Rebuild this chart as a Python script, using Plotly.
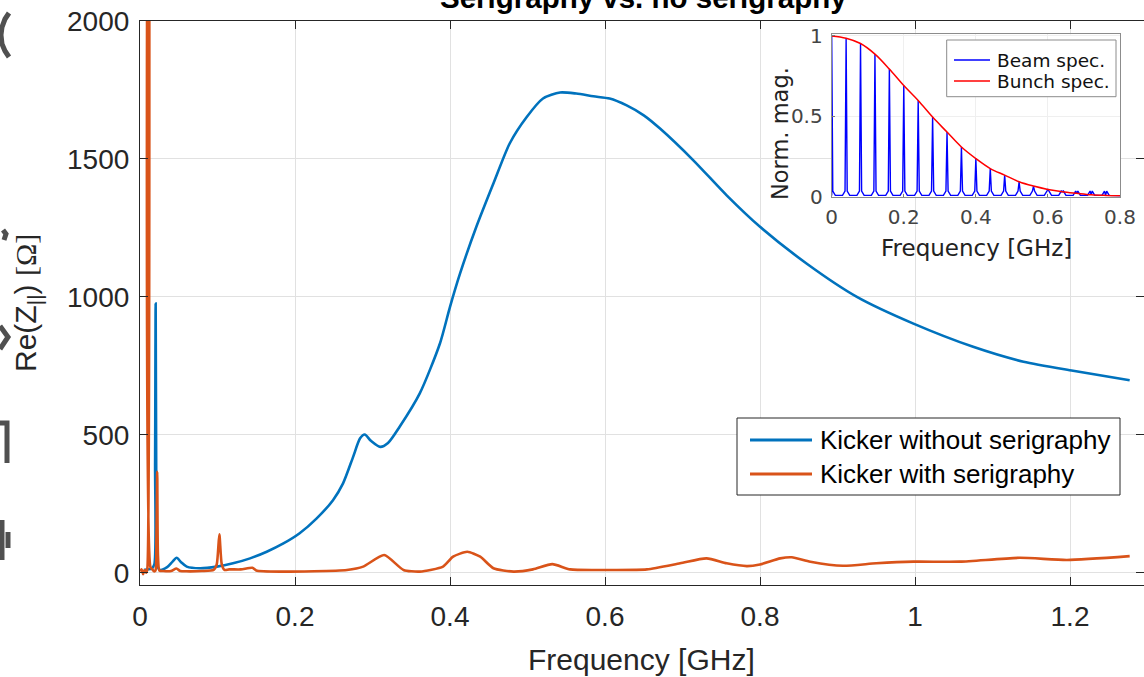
import plotly.graph_objects as go

# ---------------- data ----------------
blue_f = [0.005, 0.010, 0.015, 0.0185, 0.0195, 0.0202, 0.0210, 0.0220, 0.0258, 0.035, 0.042,
          0.0473, 0.0530, 0.0603, 0.0774, 0.099, 0.120, 0.142, 0.1635, 0.185, 0.206, 0.228,
          0.249, 0.262, 0.275, 0.284, 0.290, 0.298, 0.310, 0.320, 0.335, 0.361, 0.387, 0.400,
          0.413, 0.434, 0.456, 0.477, 0.499, 0.520, 0.542, 0.563, 0.585, 0.606, 0.628, 0.650,
          0.671, 0.714, 0.757, 0.800, 0.860, 0.925, 0.998, 1.075, 1.140, 1.204, 1.277]
blue_v = [10, 12, 15, 30, 400, 976, 300, 30, 10, 20, 40,
          54, 38, 22, 16, 22, 34, 52, 76, 106, 143, 197,
          263, 324, 420, 487, 501, 478, 456, 470, 529, 650, 831, 964,
          1085, 1254, 1411, 1556, 1652, 1719, 1741, 1737, 1727, 1719, 1694, 1658,
          1610, 1495, 1368, 1254, 1121, 1000, 903, 819, 765, 732, 698]

orange_f = [0.000, 0.002, 0.004, 0.006, 0.008, 0.0095, 0.0115, 0.0135, 0.016, 0.018,
            0.020, 0.0212, 0.0222, 0.0232, 0.025, 0.030, 0.040, 0.047, 0.052, 0.060, 0.080,
            0.095, 0.099, 0.1024, 0.1055, 0.109, 0.115, 0.130, 0.145, 0.150, 0.181, 0.267,
            0.288, 0.315, 0.340, 0.361, 0.391, 0.404, 0.4223, 0.439, 0.456, 0.482, 0.507,
            0.532, 0.555, 0.600, 0.654, 0.697, 0.731, 0.757, 0.783, 0.800, 0.826, 0.841,
            0.865, 0.907, 0.950, 0.998, 1.058, 1.135, 1.196, 1.277]
orange_v = [5, 12, -5, 10, 0, 15, 4200, 20, 12, 5,
            8, 120, 366, 60, 8, 6, 6, 15, 6, 5, 6,
            10, 30, 139, 30, 10, 12, 12, 18, 8, 4, 10,
            22, 64, 10, 4, 22, 58, 76, 58, 16, 4, 12,
            31, 12, 10, 12, 34, 52, 34, 24, 30, 52, 56,
            40, 25, 34, 40, 40, 54, 46, 60]

bunch_f = [0.00, 0.04, 0.08, 0.12, 0.16, 0.20, 0.24, 0.28, 0.32, 0.36, 0.40,
           0.44, 0.48, 0.52, 0.56, 0.60, 0.64, 0.68, 0.72, 0.76, 0.80]
bunch_v = [1.000, 0.986, 0.953, 0.887, 0.794, 0.691, 0.598, 0.495, 0.402, 0.309, 0.237,
           0.175, 0.134, 0.093, 0.066, 0.045, 0.031, 0.021, 0.012, 0.008, 0.006]

beam_f = bunch_f[:-1]
beam_v = bunch_v[:-1]

main_xticks = [0, 0.2, 0.4, 0.6, 0.8, 1.0, 1.2]
main_xtext = ["0", "0.2", "0.4", "0.6", "0.8", "1", "1.2"]
main_yticks = [0, 500, 1000, 1500, 2000]
inset_xticks = [0, 0.2, 0.4, 0.6, 0.8]
inset_xtext = ["0", "0.2", "0.4", "0.6", "0.8"]
inset_yticks = [0, 0.5, 1]
inset_ytext = ["0", "0.5", "1"]

# ---------------- geometry (page pixels) ----------------
W, H = 1144, 677
AX_L, AX_T, AX_B, AX_R = 140, 21, 585, 1144          # plot area in page pixels
ML, MT, MR, MB = AX_L, AX_T, W - AX_R, H - AX_B
PW, PH = W - ML - MR, H - MT - MB
PX_PER_GHZ = 775.0
Y0_PX = 572.7                                        # page pixel of Re(Z)=0
PX_PER_OHM = (Y0_PX - AX_T) / 2000.0


def px(x, y):
    """page pixel -> paper coordinates"""
    return (x - AX_L) / PW, (AX_B - y) / PH


BLUE = "#0072BD"
ORANGE = "#D95319"
AXC = "#262626"
GRID = "#e1e1e1"
MAINFONT = "Liberation Sans, Arial, sans-serif"
INSETFONT = "DejaVu Sans, Verdana, sans-serif"

# beam spectrum as stems with small humps at their feet
bx, by = [], []
for f, a in zip(beam_f, beam_v):
    bx += [max(f - 0.010, 0), max(f - 0.003, 0), f, f + 0.003, f + 0.010]
    by += [0.008, 0.035, a, 0.035, 0.008]
bx += [0.8]
by += [0.006]

fig = go.Figure()
fig.add_trace(go.Scatter(x=blue_f, y=blue_v, mode="lines", name="Kicker without serigraphy",
                         line=dict(color=BLUE, width=2.6, shape="spline", smoothing=0.7),
                         showlegend=False))
fig.add_trace(go.Scatter(x=orange_f, y=orange_v, mode="lines", name="Kicker with serigraphy",
                         line=dict(color=ORANGE, width=2.6, shape="spline", smoothing=0.6),
                         showlegend=False))
fig.add_trace(go.Scatter(x=bx, y=by, mode="lines", name="Beam spec.", xaxis="x2", yaxis="y2",
                         line=dict(color="#0000FF", width=1.4), showlegend=False))
fig.add_trace(go.Scatter(x=bunch_f, y=bunch_v, mode="lines", name="Bunch spec.", xaxis="x2",
                         yaxis="y2", line=dict(color="#FF0000", width=1.5, shape="spline"),
                         showlegend=False))

ix0, iy0 = px(831.7, 196.7)
ix1, iy1 = px(1120, 34.3)

y_top = 2000.0
y_bottom = -(AX_B - Y0_PX) / PX_PER_OHM

fig.update_layout(
    width=W, height=H, margin=dict(l=ML, r=MR, t=MT, b=MB, autoexpand=False),
    paper_bgcolor="white", plot_bgcolor="white",
    font=dict(family=MAINFONT, color=AXC),
    xaxis=dict(range=[0, PW / PX_PER_GHZ], tickvals=main_xticks, ticktext=main_xtext,
               ticks="inside", ticklen=8, tickcolor=AXC, showline=True, linecolor=AXC,
               linewidth=1.2, mirror="ticks", showgrid=True, gridcolor=GRID, zeroline=False,
               tickfont=dict(size=28, color=AXC), ticklabelstandoff=6, automargin=False),
    yaxis=dict(range=[y_bottom, y_top + 0.01], tickvals=main_yticks, ticks="inside", ticklen=8,
               tickcolor=AXC, showline=True, linecolor=AXC, linewidth=1.2, mirror="ticks",
               showgrid=True, gridcolor=GRID, zeroline=False,
               tickfont=dict(size=28, color=AXC), ticklabelstandoff=4, automargin=False),
    xaxis2=dict(domain=[ix0, ix1], anchor="y2", range=[0, 0.8], tickvals=inset_xticks,
                ticktext=inset_xtext, ticks="inside", ticklen=3, tickcolor="#777",
                showline=True, linecolor="#8c8c8c", linewidth=1, mirror=True,
                showgrid=True, gridcolor="#efefef", zeroline=False,
                tickfont=dict(size=20, color="#444", family=INSETFONT), ticklabelstandoff=2,
                automargin=False),
    yaxis2=dict(domain=[iy0, iy1], anchor="x2", range=[0, 1.01], tickvals=inset_yticks,
                ticktext=inset_ytext, ticks="inside", ticklen=3, tickcolor="#777",
                showline=True, linecolor="#8c8c8c", linewidth=1, mirror=True,
                showgrid=True, gridcolor="#efefef", zeroline=False,
                tickfont=dict(size=20, color="#444", family=INSETFONT), ticklabelstandoff=4,
                automargin=False),
)

shapes = []
# white background of the inset
shapes.append(dict(type="rect", xref="paper", yref="paper", x0=ix0, x1=ix1, y0=iy0, y1=iy1,
                   fillcolor="white", line=dict(width=0), layer="between"))

# main legend box
lx0, ly0 = px(737, 495)
lx1, ly1 = px(1120, 418)
shapes.append(dict(type="rect", xref="paper", yref="paper", x0=lx0, x1=lx1, y0=ly0, y1=ly1,
                   fillcolor="white", line=dict(color=AXC, width=1)))
for yy, col in [(440, BLUE), (474, ORANGE)]:
    a0 = px(750, yy)
    a1 = px(812, yy)
    shapes.append(dict(type="line", xref="paper", yref="paper", x0=a0[0], y0=a0[1],
                       x1=a1[0], y1=a1[1], line=dict(color=col, width=3)))

# inset legend box
gx0, gy0 = px(946.7, 96.7)
gx1, gy1 = px(1116, 40)
shapes.append(dict(type="rect", xref="paper", yref="paper", x0=gx0, x1=gx1, y0=gy0, y1=gy1,
                   fillcolor="white", line=dict(color="#8c8c8c", width=1)))
for yy, col in [(60, "#0000FF"), (81, "#FF0000")]:
    a0 = px(954, yy)
    a1 = px(990, yy)
    shapes.append(dict(type="line", xref="paper", yref="paper", x0=a0[0], y0=a0[1],
                       x1=a1[0], y1=a1[1], line=dict(color=col, width=1.5)))

# cropped glyph remnants at the left edge of the slide
GLY = "#505050"


def path(points):
    s = ""
    for i, (x, y) in enumerate(points):
        X, Y = px(x, y)
        s += ("M" if i == 0 else "L") + f"{X:.5f},{Y:.5f}"
    return s


glyphs = [
    [(9, 13), (5, 19), (2, 27), (1, 35), (2, 44), (5, 51), (9, 57)],
    [(3, 230), (6, 234), (4, 240)],
    [(0, 326), (8, 337), (0, 349)],
    [(0, 423), (7, 423), (7, 463)],
    [(2, 520), (2, 560)],
    [(8, 532), (8, 548)],
]
for g in glyphs:
    shapes.append(dict(type="path", xref="paper", yref="paper", path=path(g),
                       line=dict(color=GLY, width=5)))

fig.update_layout(shapes=shapes)

ann = []
# title (cropped at the top of the picture)
tx, ty = px(643, -2)
ann.append(dict(text="<b>Serigraphy vs. no serigraphy</b>", xref="paper", yref="paper",
                x=tx, y=ty, xanchor="center", yanchor="middle", showarrow=False,
                font=dict(size=29.5, color="#000000", family=MAINFONT)))
# axis labels
xx, xy = px(641, 659)
ann.append(dict(text="Frequency [GHz]", xref="paper", yref="paper", x=xx, y=xy,
                xanchor="center", yanchor="middle", showarrow=False,
                font=dict(size=30, color=AXC, family=MAINFONT)))
yx, yy_ = px(27, 303)
ann.append(dict(text="Re(Z<sub>||</sub>) <span style='font-family:Liberation Serif'>[Ω]</span>",
                xref="paper", yref="paper", x=yx, y=yy_, xanchor="center", yanchor="middle",
                textangle=-90, showarrow=False,
                font=dict(size=30, color=AXC, family=MAINFONT)))
# main legend texts
for yy, txt in [(440, "Kicker without serigraphy"), (474, "Kicker with serigraphy")]:
    X, Y = px(818, yy)
    ann.append(dict(text=txt, xref="paper", yref="paper", x=X, y=Y, xanchor="left",
                    yanchor="middle", showarrow=False,
                    font=dict(size=26, color="#000000", family=MAINFONT)))
# inset labels
X, Y = px(976, 248)
ann.append(dict(text="Frequency [GHz]", xref="paper", yref="paper", x=X, y=Y,
                xanchor="center", yanchor="middle", showarrow=False,
                font=dict(size=23, color="#222", family=INSETFONT)))
X, Y = px(780, 134)
ann.append(dict(text="Norm. mag.", xref="paper", yref="paper", x=X, y=Y,
                xanchor="center", yanchor="middle", textangle=-90, showarrow=False,
                font=dict(size=22.5, color="#222", family=INSETFONT)))
for yy, txt in [(60, "Beam spec."), (81, "Bunch spec.")]:
    X, Y = px(995, yy)
    ann.append(dict(text=txt, xref="paper", yref="paper", x=X, y=Y, xanchor="left",
                    yanchor="middle", showarrow=False,
                    font=dict(size=18.5, color="#111", family=INSETFONT)))

fig.update_layout(annotations=ann)
# remove the browser's default 8 px page margin so the figure sits at the window corner
fig.write_html("out.html", config={"displayModeBar": False},
               post_script="document.body.style.margin='0';")
